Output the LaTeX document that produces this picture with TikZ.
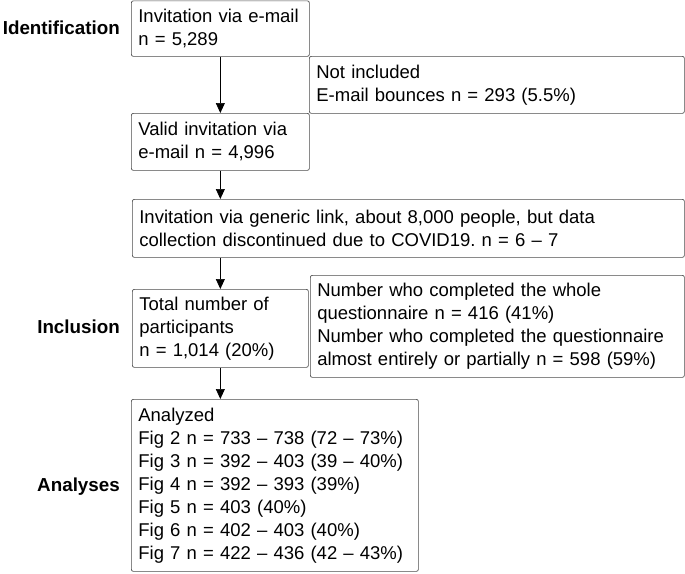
\documentclass[tikz,border=0pt]{standalone}
\usepackage{fontspec}
\setmainfont{Liberation Sans}
\usetikzlibrary{arrows.meta}
\frenchspacing

\tikzset{
  box/.style={draw=black!70, rounded corners=2pt, line width=0.7pt, align=left,
    anchor=north west, inner xsep=7pt, inner ysep=0pt},
  stage/.style={font=\fontsize{18.8}{23}\selectfont\bfseries, anchor=base east, inner sep=0pt},
  arr/.style={-{Triangle[width=9pt,length=10pt]}, line width=0.7pt}
}

\begin{document}
\begin{tikzpicture}[x=1pt,y=-1pt,font=\fontsize{18.5}{23}\selectfont]
\useasboundingbox (0,0) rectangle (685,573);

% stage labels
\node[stage] (ident) at (120,34) {Identification};
\node[stage] (incl) at (120,333) {Inclusion};
\node[stage] (anal) at (120,491) {Analyses};

% boxes
\node[box, text width=164pt, minimum height=55.5pt] (email) at (131,0.5)
  {Invitation via e-mail\\n = 5,289};
\node[box, text width=361pt, minimum height=57pt] (bounce) at (309,56)
  {Not included\\E-mail bounces n = 293 (5.5\%)};
\node[box, text width=164pt, minimum height=57pt] (valid) at (131,113)
  {Valid invitation via\\e-mail n = 4,996};
\node[box, text width=538pt, minimum height=58pt] (generic) at (132,199)
  {Invitation via generic link, about 8,000 people, but data\\collection discontinued due to COVID19. n = 6 \textendash{} 7};
\node[box, text width=162pt, minimum height=78pt] (total) at (132,289)
  {Total number of\\participants\\n = 1,014 (20\%)};
\node[box, text width=360pt, minimum height=102pt] (completed) at (310,275)
  {Number who completed the whole\\questionnaire n = 416 (41\%)\\Number who completed the questionnaire\\almost entirely or partially n = 598 (59\%)};
\node[box, text width=273pt, minimum height=172pt] (analyzed) at (131,399)
  {Analyzed\\
   Fig 2 n = 733 \textendash{} 738 (72 \textendash{} 73\%)\\
   Fig 3 n = 392 \textendash{} 403 (39 \textendash{} 40\%)\\
   Fig 4 n = 392 \textendash{} 393 (39\%)\\
   Fig 5 n = 403 (40\%)\\
   Fig 6 n = 402 \textendash{} 403 (40\%)\\
   Fig 7 n = 422 \textendash{} 436 (42 \textendash{} 43\%)};

% arrows
\draw[arr] (email) -- (valid);
\draw[arr] (valid.south) -- (valid.south |- generic.north);
\draw[arr] (valid.south |- generic.south) -- (total.north);
\draw[arr] (total.south) -- (total.south |- analyzed.north);
\end{tikzpicture}
\end{document}
